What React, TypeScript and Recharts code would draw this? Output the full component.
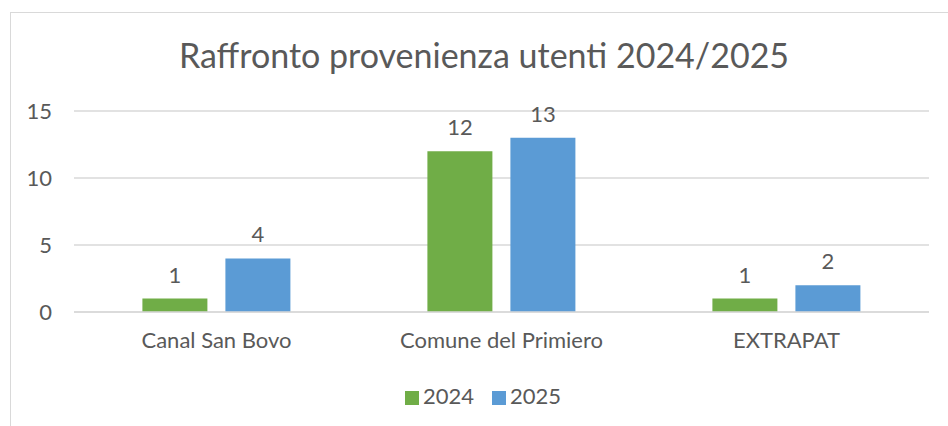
import React from 'react';
import { BarChart, Bar, XAxis, YAxis, CartesianGrid, Legend, LabelList } from 'recharts';

const categories = ['Canal San Bovo', 'Comune del Primiero', 'EXTRAPAT'];
const values2024 = [1, 12, 1];
const values2025 = [4, 13, 2];
const yTicks = [0, 5, 10, 15];

const data = categories.map((name, i) => ({
	name,
	y2024: values2024[i],
	y2025: values2025[i],
}));

const FONT = 'Lato, "Noto Sans", sans-serif';
const TEXT = '#595959';

export default function App() {
	return (
		<div style={{ position: 'absolute', left: 0, top: 0, width: 948, height: 426, overflow: 'hidden', background: '#fff', fontFamily: FONT }}>
			<div style={{ position: 'absolute', left: 10, top: 12, width: 960, height: 440, border: '1.5px solid #d9d9d9', boxSizing: 'border-box' }} />
			<div style={{ position: 'absolute', left: 0, top: 34, width: 968, textAlign: 'center', fontSize: 34, color: TEXT }}>
				Raffronto provenienza utenti 2024/2025
			</div>
			<BarChart
				width={948}
				height={426}
				data={data}
				margin={{ top: 111, right: 19, bottom: 84, left: 0 }}
				barGap={18}
				barCategoryGap="24%"
				style={{ position: 'absolute', left: 0, top: 0 }}
			>
				<CartesianGrid vertical={false} stroke="#d9d9d9" strokeWidth={1.5} />
				<XAxis
					dataKey="name"
					axisLine={{ stroke: '#d9d9d9', strokeWidth: 1.5 }}
					tickLine={false}
					tickMargin={14}
					tick={{ fill: TEXT, fontSize: 22, fontFamily: FONT }}
				/>
				<YAxis
					width={74}
					domain={[0, 15]}
					ticks={yTicks}
					axisLine={false}
					tickLine={false}
					tickSize={0}
					tickMargin={22}
					tick={{ fill: TEXT, fontSize: 22, fontFamily: FONT }}
				/>
				<Legend
					verticalAlign="middle"
					align="center"
					layout="horizontal"
					iconType="square"
					iconSize={14}
					wrapperStyle={{ top: 382, left: 8, width: 968, fontSize: 22, fontFamily: FONT }}
					formatter={(value) => <span style={{ color: TEXT, marginRight: 8 }}>{value}</span>}
				/>
				<Bar dataKey="y2024" name="2024" fill="#70ad47" isAnimationActive={false}>
					<LabelList dataKey="y2024" position="top" offset={16} fill={TEXT} fontSize={22} fontFamily={FONT} />
				</Bar>
				<Bar dataKey="y2025" name="2025" fill="#5b9bd5" isAnimationActive={false}>
					<LabelList dataKey="y2025" position="top" offset={16} fill={TEXT} fontSize={22} fontFamily={FONT} />
				</Bar>
			</BarChart>
		</div>
	);
}
